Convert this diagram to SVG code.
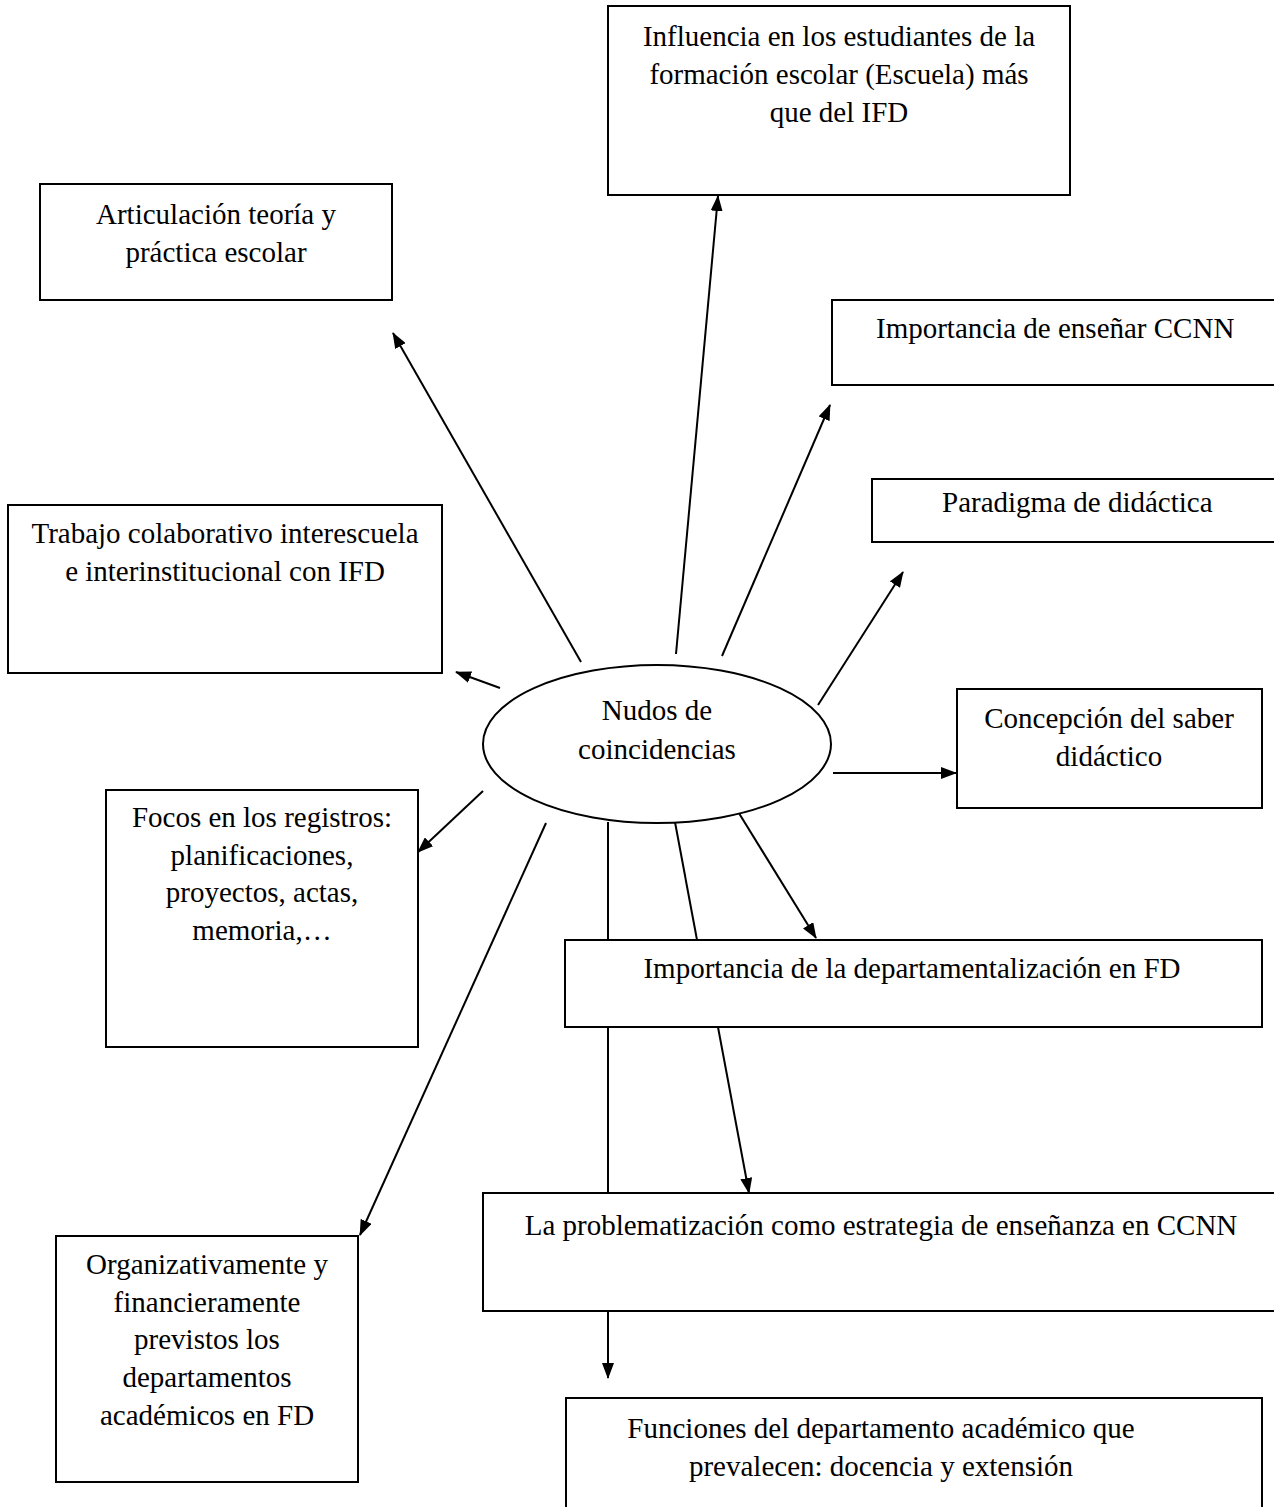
<svg xmlns="http://www.w3.org/2000/svg" width="1274" height="1507" viewBox="0 0 1274 1507">
<style>
.box{fill:#fff;stroke:#000;stroke-width:2}
.t{font-family:"Liberation Serif","Times New Roman",serif;font-size:29px;fill:#000;text-anchor:middle}
.s{text-anchor:start}
.c{stroke:#000;stroke-width:2;fill:none}
.a{marker-end:url(#ah)}
</style>
<defs>
<marker id="ah" markerWidth="16" markerHeight="12" refX="15" refY="6" orient="auto" markerUnits="userSpaceOnUse">
<path d="M0,0 L16,6 L0,12 Z" fill="#000"/>
</marker>
</defs>
<rect width="1274" height="1507" fill="#fff"/>
<g id="connectors">
<line class="c a" x1="676" y1="654" x2="718" y2="196"/>
<line class="c a" x1="581" y1="662" x2="393" y2="333"/>
<line class="c a" x1="722" y1="656" x2="830" y2="405"/>
<line class="c a" x1="818" y1="705" x2="903" y2="572"/>
<line class="c a" x1="500" y1="688" x2="456" y2="672"/>
<line class="c a" x1="833" y1="773" x2="956" y2="773"/>
<line class="c a" x1="483" y1="791" x2="418" y2="852"/>
<line class="c a" x1="546" y1="823" x2="360" y2="1235"/>
<line class="c" x1="608" y1="822" x2="608" y2="1193"/>
<line class="c a" x1="608" y1="1311" x2="608" y2="1378"/>
<line class="c" x1="675" y1="822" x2="697" y2="940"/>
<line class="c a" x1="718" y1="1027" x2="749" y2="1193"/>
<line class="c a" x1="737" y1="810" x2="816" y2="938"/>
</g>
<g id="n-influencia">
<rect class="box" x="608" y="6" width="462" height="189"/>
<text class="t"><tspan x="839" y="46">Influencia en los estudiantes de la</tspan><tspan x="839" y="84">formación escolar (Escuela) más</tspan><tspan x="839" y="122">que del IFD</tspan></text>
</g>
<g id="n-articulacion">
<rect class="box" x="40" y="184" width="352" height="116"/>
<text class="t"><tspan x="216" y="224">Articulación teoría y</tspan><tspan x="216" y="262">práctica escolar</tspan></text>
</g>
<g id="n-ccnn">
<rect class="box" x="832" y="300" width="460" height="85"/>
<text class="t s" x="876" y="338">Importancia de enseñar CCNN</text>
</g>
<g id="n-paradigma">
<rect class="box" x="872" y="479" width="420" height="63"/>
<text class="t s" x="942" y="512">Paradigma de didáctica</text>
</g>
<g id="n-trabajo">
<rect class="box" x="8" y="505" width="434" height="168"/>
<text class="t"><tspan x="225" y="543">Trabajo colaborativo interescuela</tspan><tspan x="225" y="581">e interinstitucional con IFD</tspan></text>
</g>
<g id="n-nudos">
<ellipse class="box" cx="657" cy="744" rx="174" ry="79"/>
<text class="t"><tspan x="657" y="720">Nudos de</tspan><tspan x="657" y="759">coincidencias</tspan></text>
</g>
<g id="n-concepcion">
<rect class="box" x="957" y="689" width="305" height="119"/>
<text class="t"><tspan x="1109" y="728">Concepción del saber</tspan><tspan x="1109" y="766">didáctico</tspan></text>
</g>
<g id="n-focos">
<rect class="box" x="106" y="790" width="312" height="257"/>
<text class="t"><tspan x="262" y="827">Focos en los registros:</tspan><tspan x="262" y="865">planificaciones,</tspan><tspan x="262" y="902">proyectos, actas,</tspan><tspan x="262" y="940">memoria,…</tspan></text>
</g>
<g id="n-departamentalizacion">
<rect class="box" x="565" y="940" width="697" height="87"/>
<text class="t" x="912" y="978">Importancia de la departamentalización en FD</text>
</g>
<g id="n-problematizacion">
<rect class="box" x="483" y="1193" width="810" height="118"/>
<text class="t" x="881" y="1235">La problematización como estrategia de enseñanza en CCNN</text>
</g>
<g id="n-organizativamente">
<rect class="box" x="56" y="1236" width="302" height="246"/>
<text class="t"><tspan x="207" y="1274">Organizativamente y</tspan><tspan x="207" y="1312">financieramente</tspan><tspan x="207" y="1349">previstos los</tspan><tspan x="207" y="1387">departamentos</tspan><tspan x="207" y="1425">académicos en FD</tspan></text>
</g>
<g id="n-funciones">
<rect class="box" x="566" y="1398" width="696" height="120"/>
<text class="t"><tspan x="881" y="1438">Funciones del departamento académico que</tspan><tspan x="881" y="1476">prevalecen: docencia y extensión</tspan></text>
</g>
</svg>
